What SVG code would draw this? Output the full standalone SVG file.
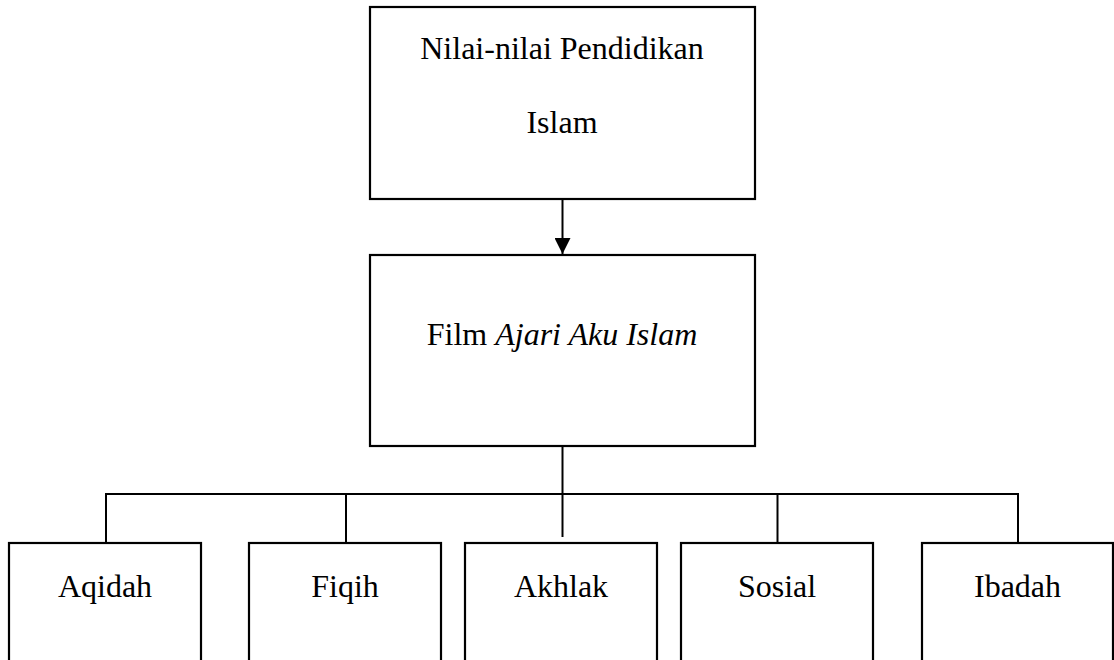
<svg xmlns="http://www.w3.org/2000/svg" width="1114" height="660" viewBox="0 0 1114 660">
<style>
.box{fill:#fff;stroke:#000;stroke-width:2.2}
.ln{fill:none;stroke:#000;stroke-width:2}
text{font-family:"Liberation Serif","Times New Roman",serif;font-size:32px;fill:#000;text-anchor:middle}
</style>
<defs>
<marker id="ah" markerWidth="16" markerHeight="16" refX="16" refY="8" orient="auto" markerUnits="userSpaceOnUse">
<path d="M0,0 L16,8 L0,16 Z" fill="#000"/>
</marker>
</defs>
<rect width="1114" height="660" fill="#fff"/>
<g id="connectors">
<line class="ln" x1="562.5" y1="199" x2="562.5" y2="254" marker-end="url(#ah)"/>
<line class="ln" x1="562.5" y1="446" x2="562.5" y2="537"/>
<polyline class="ln" points="106,543 106,494 1018,494 1018,543"/>
<line class="ln" x1="346" y1="494" x2="346" y2="543"/>
<line class="ln" x1="777.5" y1="494" x2="777.5" y2="543"/>
</g>
<g id="node-nilai">
<rect class="box" x="370" y="7" width="385" height="192"/>
<text x="562" y="59">Nilai-nilai Pendidikan</text>
<text x="562" y="133">Islam</text>
</g>
<g id="node-film">
<rect class="box" x="370" y="255" width="385" height="191"/>
<text x="562" y="345">Film <tspan font-style="italic">Ajari Aku Islam</tspan></text>
</g>
<g id="node-aqidah">
<rect class="box" x="9" y="543" width="192" height="130"/>
<text x="105" y="597">Aqidah</text>
</g>
<g id="node-fiqih">
<rect class="box" x="249" y="543" width="192" height="130"/>
<text x="345" y="597">Fiqih</text>
</g>
<g id="node-akhlak">
<rect class="box" x="465" y="543" width="192" height="130"/>
<text x="561" y="597">Akhlak</text>
</g>
<g id="node-sosial">
<rect class="box" x="681" y="543" width="192" height="130"/>
<text x="777" y="597">Sosial</text>
</g>
<g id="node-ibadah">
<rect class="box" x="922" y="543" width="191" height="130"/>
<text x="1017.5" y="597">Ibadah</text>
</g>
</svg>
